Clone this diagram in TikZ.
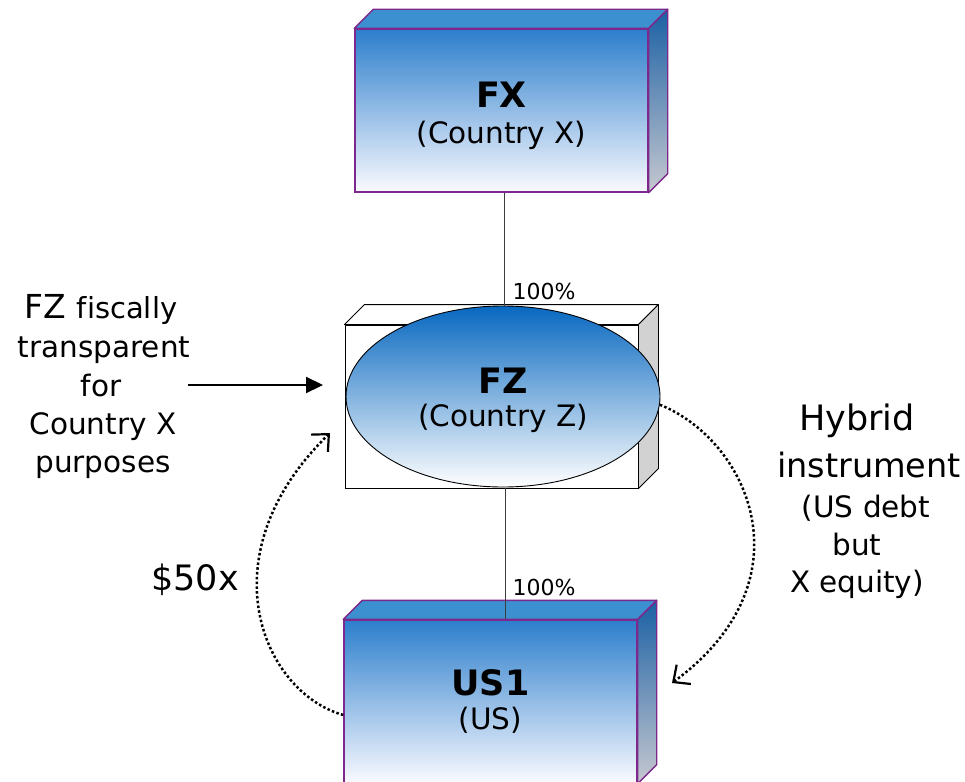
\documentclass[tikz,border=0pt]{standalone}
\usepackage{fontspec}
\setmainfont[Ligatures=NoCommon]{DejaVu Sans}
\usetikzlibrary{shapes.geometric,arrows.meta,calc}

\definecolor{boxedge}{RGB}{125,40,140}
\definecolor{facetop}{RGB}{44,126,204}
\definecolor{facemid}{RGB}{186,198,240}
\definecolor{facelow}{RGB}{250,250,255}
\definecolor{lidblue}{RGB}{60,144,208}
\definecolor{sidetop}{RGB}{26,96,164}
\definecolor{sidelow}{RGB}{198,200,208}
\definecolor{ovaltop}{RGB}{8,104,192}
\definecolor{ovalmid}{RGB}{180,192,238}
\definecolor{sidegrey}{RGB}{210,210,210}
\definecolor{linkgrey}{RGB}{60,60,60}

% lid and side faces of a prism whose front face is node #1
\newcommand\prismfaces[4]{%
  \path[#3] (#1.north west) -- ++(#2,-#2) -- ([shift={(#2,-#2)}]#1.north east) -- (#1.north east) -- cycle;
  \path[#4] (#1.north east) -- ++(#2,-#2) -- ([shift={(#2,-#2)}]#1.south east) -- (#1.south east) -- cycle;}

\begin{document}
\begin{tikzpicture}[x=1pt,y=-1pt,
  entity/.style={rectangle, draw=boxedge, line width=1.4pt, inner sep=0pt,
    minimum width=293pt, minimum height=163pt,
    top color=facetop, middle color=facemid, bottom color=facelow},
  bluelid/.style={draw=boxedge, line width=1.4pt, line join=round, fill=lidblue},
  blueside/.style={draw=boxedge, line width=1.4pt, line join=round, top color=sidetop, bottom color=sidelow},
  plainbox/.style={rectangle, draw=black, line width=0.9pt, fill=white, inner sep=0pt,
    minimum width=293pt, minimum height=163pt},
  plainlid/.style={draw=black, line width=0.9pt, line join=round, fill=white},
  plainside/.style={draw=black, line width=0.9pt, line join=round, fill=sidegrey},
  oval/.style={ellipse, draw=black, line width=0.9pt, inner sep=0pt,
    minimum width=314pt, minimum height=181pt,
    top color=ovaltop, middle color=ovalmid, bottom color=white},
  title/.style={anchor=base, font=\fontsize{35}{40}\selectfont\bfseries},
  subtitle/.style={anchor=base, font=\fontsize{29.5}{34}\selectfont},
  share/.style={anchor=base west, font=\fontsize{22}{26}\selectfont},
  link/.style={draw=linkgrey, line width=0.9pt},
  note/.style={anchor=base, font=\fontsize{29.5}{34}\selectfont},
  bignote/.style={anchor=base, font=\fontsize{35}{40}\selectfont},
  flow/.style={line width=2.5pt, dash pattern=on 2.5pt off 2.3pt,
    -{Straight Barb[length=13pt,width=24pt,line width=2.2pt]}},
  pointer/.style={line width=2.2pt, -{Triangle[length=17pt,width=16pt]}}
]
\useasboundingbox (0,0) rectangle (965,781);

% FX
\node[entity] (fx) at (501.5,110.5) {};
\prismfaces{fx}{19}{bluelid}{blueside}
\node[title] (fxname) at (501.5,107) {FX};
\node[subtitle] (fxland) at (501.5,143) {(Country X)};

% FZ
\node[plainbox] (fzbox) at (491.5,406.5) {};
\prismfaces{fzbox}{20}{plainlid}{plainside}
\node[oval] (fz) at (503,396.5) {};
\node[title] (fzname) at (503,393) {FZ};
\node[subtitle] (fzland) at (503,426) {(Country Z)};

% US1
\node[entity] (us1) at (490.5,701.5) {};
\prismfaces{us1}{19}{bluelid}{blueside}
\node[title] (us1name) at (490.5,695) {US1};
\node[subtitle] (us1land) at (490.5,729) {(US)};

% ownership links
\draw[link] (fz.north -| 504,0) -- (504,0 |- fx.south);
\draw[link] (505,0 |- fzbox.south) -- (505,0 |- us1.north);
\node[share] (pct1) at (509,299) {100\%};
\node[share] (pct2) at (509,595) {100\%};

% transparency note
\node[anchor=base] (lt1) at (101,318) {\fontsize{33}{38}\selectfont FZ \fontsize{29}{34}\selectfont fiscally};
\node[note] (lt2) at (104,357) {transparent};
\node[note] (lt3) at (101,396) {for};
\node[note] (lt4) at (103,434) {Country X};
\node[note] (lt5) at (103,472) {purposes};
\coordinate (ptrstart) at (188,385);
\coordinate (ptrend) at (323,385);
\draw[pointer] (ptrstart) -- (ptrend);

% hybrid instrument note
\node[bignote] (rt1) at (857,430) {Hybrid};
\node[anchor=base, font=\fontsize{33.5}{40}\selectfont] (rt2) at (869,477) {instrument};
\node[note] (rt3) at (866,517) {(US debt};
\node[note] (rt4) at (857,555) {but};
\node[note] (rt5) at (857,592) {X equity)};

% payment note
\node[anchor=base, font=\fontsize{35}{40}\selectfont] (pay) at (195,590) {\$50x};

% flows
\coordinate (hybridtip) at (672,683);
\draw[flow] (fz.-3) .. controls (748,440) and (812,580) .. (hybridtip);
\coordinate (paytip) at (330,433);
\draw[flow] ($(us1.west)+(0,13.5)$) .. controls (262,692) and (205,555) .. (paytip);
\end{tikzpicture}
\end{document}
